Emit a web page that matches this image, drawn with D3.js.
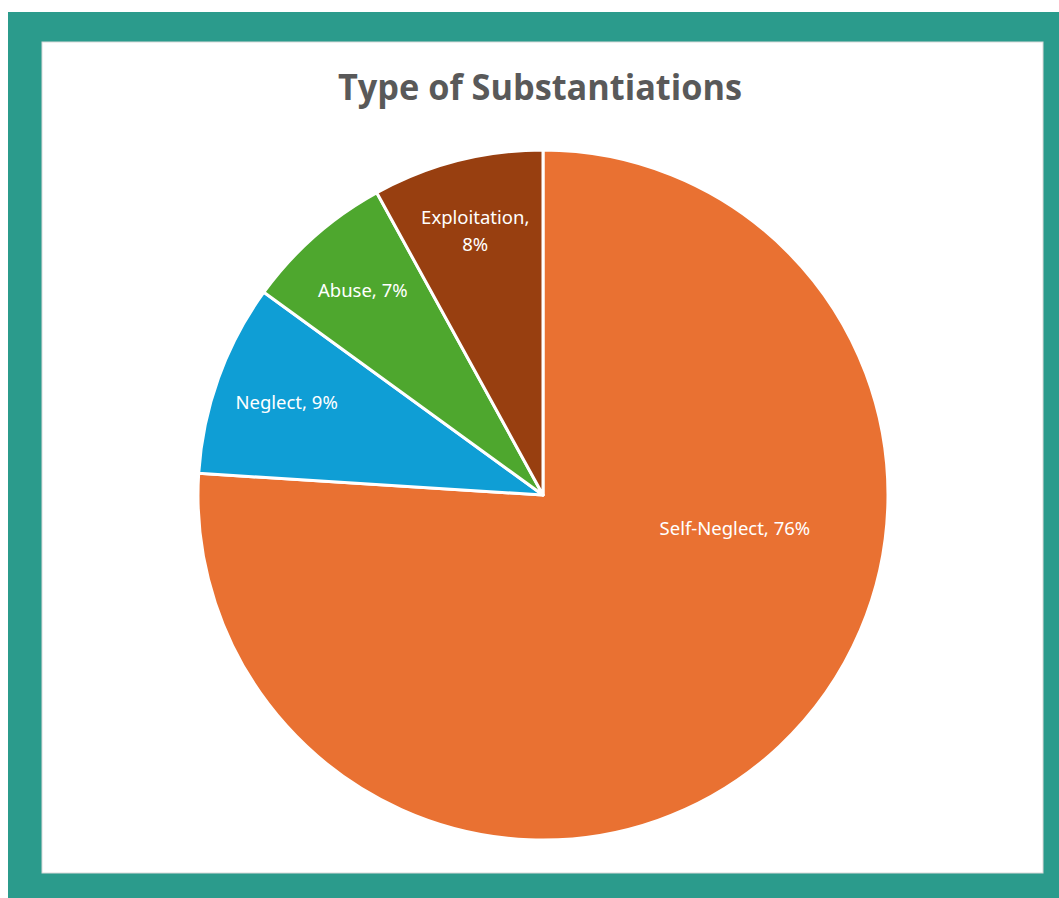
<!DOCTYPE html>
<html>
<head>
<meta charset="utf-8">
<script src="https://cdn.jsdelivr.net/npm/d3@7"></script>
<style>
  html, body { margin: 0; padding: 0; background: #ffffff; }
  svg { display: block; }
</style>
</head>
<body>
<svg id="chart" width="1059" height="898"></svg>
<script>
const title = "Type of Substantiations";
const categories = ["Self-Neglect", "Neglect", "Abuse", "Exploitation"];
const values = [76, 9, 7, 8];
const colors = ["#E97132", "#0F9ED5", "#4EA72E", "#983F10"];

const W = 1059, H = 898;
const svg = d3.select("#chart");

// frame
svg.append("rect").attr("x", 8).attr("y", 12).attr("width", W - 8).attr("height", H - 12)
  .attr("fill", "#2B9B8C");
svg.append("rect").attr("x", 42).attr("y", 42).attr("width", 1001).attr("height", 831)
  .attr("fill", "#ffffff").attr("stroke", "#d9d9d9").attr("stroke-width", 1);

// title
svg.append("text")
  .attr("x", 540).attr("y", 100)
  .attr("text-anchor", "middle")
  .attr("font-family", "'Open Sans', 'Noto Sans', sans-serif")
  .attr("font-weight", 700)
  .attr("font-size", 35)
  .attr("fill", "#595959")
  .attr("textLength", 404)
  .attr("lengthAdjust", "spacingAndGlyphs")
  .text(title);

const cx = 543, cy = 495, R = 345;
const data = categories.map((c, i) => ({ name: c, value: values[i], color: colors[i] }));
const pie = d3.pie().value(d => d.value).sort(null);
const arcs = pie(data);
const arc = d3.arc().innerRadius(0).outerRadius(R);

const g = svg.append("g").attr("transform", `translate(${cx},${cy})`);
g.selectAll("path").data(arcs).join("path")
  .attr("d", arc)
  .attr("fill", d => d.data.color)
  .attr("stroke", "#ffffff")
  .attr("stroke-width", 3)
  .attr("stroke-linejoin", "round");

const total = d3.sum(values);
const smallArc = d3.arc().innerRadius(0.79 * R * 2).outerRadius(0);

g.selectAll("text.lbl").data(arcs).join("text")
  .attr("class", "lbl")
  .attr("font-family", "'Noto Sans', 'Open Sans', sans-serif")
  .attr("font-size", 18.5)
  .attr("fill", "#ffffff")
  .attr("text-anchor", "middle")
  .each(function(d) {
    const pct = Math.round(d.data.value / total * 100) + "%";
    let p;
    if (d.index === 0) {
      const a = d.startAngle + (d.endAngle - d.startAngle) * 0.366;
      const r = 0.565 * R;
      p = [Math.sin(a) * r, -Math.cos(a) * r];
    } else {
      p = smallArc.centroid(d);
    }
    const t = d3.select(this);
    if (d.data.name === "Exploitation") {
      t.append("tspan").attr("x", p[0]).attr("y", p[1] - 7).text(d.data.name + ",");
      t.append("tspan").attr("x", p[0]).attr("y", p[1] + 20).text(pct);
    } else {
      t.attr("x", p[0]).attr("y", p[1] + 6).text(d.data.name + ", " + pct);
    }
  });
</script>
</body>
</html>
